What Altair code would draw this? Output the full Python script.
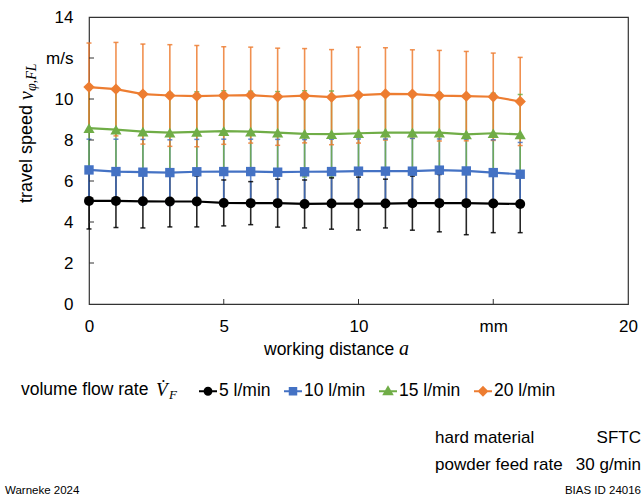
import altair as alt
import pandas as pd

# ---------------- data ----------------
distance = list(range(17))
series = ["5 l/min", "10 l/min", "15 l/min", "20 l/min"]
colors = ["#000000", "#4472C4", "#70AD47", "#ED7D31"]
shapes = ["circle", "square", "triangle-up", "diamond"]

mean_5 = [5.03, 5.03, 5.01, 5.00, 5.00, 4.93, 4.92, 4.92, 4.88, 4.90, 4.90, 4.90, 4.92, 4.92, 4.92, 4.90, 4.88]
sd_5 = [1.37, 1.30, 1.30, 1.24, 1.24, 1.12, 1.05, 1.17, 1.17, 1.25, 1.29, 1.19, 1.32, 1.40, 1.54, 1.42, 1.40]

mean_10 = [6.54, 6.46, 6.43, 6.41, 6.45, 6.46, 6.46, 6.43, 6.45, 6.46, 6.48, 6.48, 6.48, 6.53, 6.49, 6.41, 6.33]
sd_10 = [1.50, 1.58, 1.60, 1.60, 1.58, 1.58, 1.58, 1.60, 1.57, 1.58, 1.57, 1.57, 1.60, 1.52, 1.55, 1.60, 1.55]

mean_15 = [8.58, 8.51, 8.41, 8.36, 8.40, 8.43, 8.41, 8.36, 8.30, 8.29, 8.33, 8.36, 8.36, 8.36, 8.27, 8.33, 8.27]
sd_15 = [1.95, 1.95, 1.95, 1.95, 1.95, 1.97, 1.97, 2.00, 2.10, 2.10, 1.97, 1.95, 1.95, 1.95, 1.95, 1.95, 1.95]

mean_20 = [10.58, 10.48, 10.24, 10.17, 10.14, 10.17, 10.19, 10.11, 10.16, 10.09, 10.19, 10.25, 10.24, 10.16, 10.14, 10.11, 9.88]
sd_20 = [2.15, 2.28, 2.44, 2.48, 2.47, 2.38, 2.34, 2.37, 2.30, 2.32, 2.34, 2.25, 2.16, 2.21, 2.18, 2.13, 2.15]

x_ticks = [0, 5, 10, 15, 20]
y_ticks = [0, 2, 4, 6, 8, 10, 12, 14]
x_inner_ticks = [5, 10, 15]
y_inner_ticks = [2, 4, 6, 8, 10, 12]

rows = []
for s, means, sds in zip(series, [mean_5, mean_10, mean_15, mean_20], [sd_5, sd_10, sd_15, sd_20]):
    for d, m, sd in zip(distance, means, sds):
        rows.append({"series": s, "a": d, "v": m, "lo": m - sd, "hi": m + sd})
df = pd.DataFrame(rows)

# ---------------- layout constants ----------------
OX, OY = 89, 17          # plot origin in page pixels
W, H = 539, 287          # plot area
SANS = "Liberation Sans"
SERIF = "Liberation Serif"

xs = alt.Scale(domain=[0, 20], nice=False, zero=False)
ys = alt.Scale(domain=[0, 14], nice=False)
# colour scale of the data marks (listed in reverse so it is not merged with the legend scales)
col = alt.Color("series:N", scale=alt.Scale(domain=series[::-1], range=colors[::-1]), legend=None)

x_axis = alt.Axis(values=x_ticks, labelExpr="datum.value == 15 ? 'mm' : datum.label",
                  title=None, ticks=False, tickSize=0, domain=False, grid=False,
                  labelFont=SANS, labelFontSize=17, labelColor="#000", labelPadding=14,
                  labelFlush=False)
y_axis = alt.Axis(values=y_ticks, labelExpr="datum.value == 12 ? 'm/s' : datum.label",
                  title=None, ticks=False, tickSize=0, domain=False, grid=False,
                  labelFont=SANS, labelFontSize=17, labelColor="#000", labelPadding=16)


def X(f):
    return alt.X(f, scale=xs, axis=x_axis)


def Y(f):
    return alt.Y(f, scale=ys, axis=y_axis)


base = alt.Chart(df)

bars = base.mark_rule(strokeWidth=1.6, strokeOpacity=0.85).encode(
    x=X("a:Q"), y=Y("lo:Q"), y2="hi:Q", color=col)
caps_lo = base.mark_tick(orient="horizontal", size=5, thickness=1.5, opacity=0.85).encode(
    x=X("a:Q"), y=Y("lo:Q"), color=col)
caps_hi = base.mark_tick(orient="horizontal", size=5, thickness=1.5, opacity=0.85).encode(
    x=X("a:Q"), y=Y("hi:Q"), color=col)

lines = base.mark_line(strokeWidth=2.2).encode(
    x=X("a:Q"), y=Y("v:Q"), color=col, detail="series:N")

marker_sizes = [100, 88, 125, 130]
point_layers = [
    base.transform_filter(alt.datum.series == s).mark_point(
        filled=True, opacity=1, shape=shp, size=sz).encode(x=X("a:Q"), y=Y("v:Q"), color=col)
    for s, shp, sz in zip(series, shapes, marker_sizes)
]

# inner tick marks
xt = alt.Chart(pd.DataFrame({"t": x_inner_ticks})).mark_rule(color="#333", strokeWidth=1).encode(
    x=X("t:Q"), y=alt.value(H), y2=alt.value(H - 5))
yt = alt.Chart(pd.DataFrame({"t": y_inner_ticks})).mark_rule(color="#333", strokeWidth=1).encode(
    y=Y("t:Q"), x=alt.value(0), x2=alt.value(5))

# legend (line + marker symbols), from an invisible layer
legend_paths = [
    "M-1,0H1M0.38,0A0.38,0.38,0,1,1,-0.38,0A0.38,0.38,0,1,1,0.38,0Z",
    "M-1,0H1M-0.36,-0.36H0.36V0.36H-0.36Z",
    "M-1,0H1M0,-0.45L0.45,0.34H-0.45Z",
    "M-1,0H1M0,-0.45L0.45,0L0,0.45L-0.45,0Z",
]
leg = alt.Legend(orient="none", legendX=198 - OX, legendY=381 - OY, direction="horizontal",
                 columns=4, title=None, labelFont=SANS, labelFontSize=17.5, labelColor="#000",
                 symbolSize=324, symbolStrokeWidth=2, symbolOpacity=1, labelOffset=1,
                 columnPadding=9, padding=0)
legend_layer = base.mark_point(filled=True, opacity=0).encode(
    x=X("a:Q"), y=Y("v:Q"),
    fill=alt.Fill("series:N", scale=alt.Scale(domain=series, range=colors), legend=leg),
    stroke=alt.Stroke("series:N", scale=alt.Scale(domain=series, range=colors), legend=leg),
    shape=alt.Shape("series:N", scale=alt.Scale(domain=series, range=legend_paths), legend=leg),
)


def label(t, px, py, font=SANS, size=17.5, italic=False, align="left", angle=0, baseline="middle"):
    kw = dict(text=t, font=font, fontSize=size, align=align, baseline=baseline, color="#000")
    if italic:
        kw["fontStyle"] = "italic"
    if angle:
        kw["angle"] = angle
    return alt.Chart(alt.Data(values=[{}])).mark_text(**kw).encode(
        x=alt.value(px - OX), y=alt.value(py - OY))


texts = [
    label("travel speed", 27, 203, size=18, angle=270),
    label("v", 27, 100, font=SERIF, size=20, italic=True, angle=270),
    label("φ,FL", 32, 91, font=SERIF, size=14, italic=True, angle=270),
    label("working distance", 264, 350),
    label("a", 399, 349, font=SERIF, size=20, italic=True),
    label("volume flow rate", 21, 390),
    label("V\u0307", 156, 390, font=SERIF, size=19, italic=True),
    label("F", 169, 395, font=SERIF, size=13, italic=True),
    label("hard material", 435, 438, size=17),
    label("SFTC", 641, 438, size=17, align="right"),
    label("powder feed rate", 435, 465, size=17),
    label("30 g/min", 641, 465, size=17, align="right"),
    label("Warneke 2024", 5, 491, size=11.5),
    label("BIAS ID 24016", 641, 491, size=11.5, align="right"),
]

chart = alt.layer(bars, caps_lo, caps_hi, lines, *point_layers, xt, yt, legend_layer, *texts).properties(
    width=W, height=H,
    autosize=alt.AutoSizeParams(type="none"),
    padding={"left": OX, "top": OY, "right": 644 - OX - W, "bottom": 500 - OY - H},
    background="white",
).configure_view(stroke="#333", strokeWidth=1.2)

chart.save("out.html", embed_options={"renderer": "svg", "actions": False})
